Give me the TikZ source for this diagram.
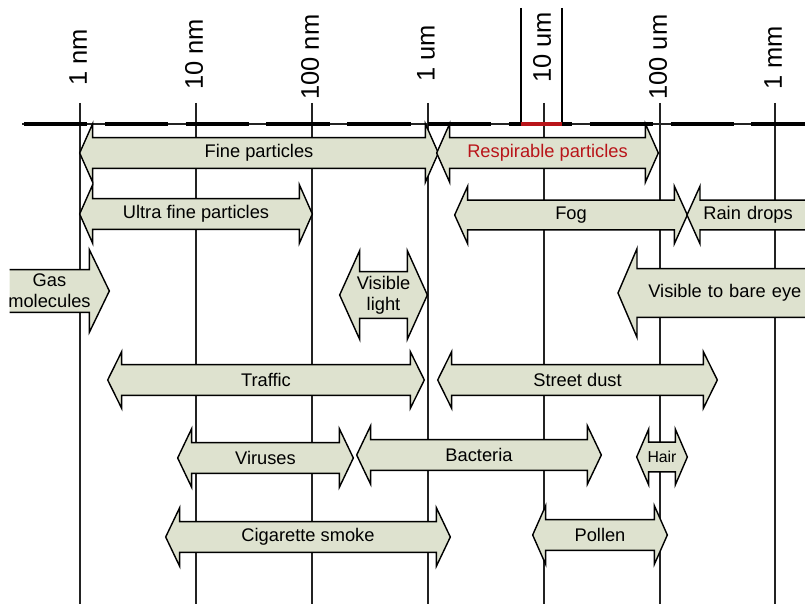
\documentclass[tikz,border=0pt]{standalone}
\usepackage{fontspec}
\setmainfont{Liberation Sans}
\usepackage{xcolor}
\usetikzlibrary{calc}
\pgfdeclarelayer{back}
\pgfdeclarelayer{shapes}
\pgfsetlayers{back,shapes,main}

% double arrow round a shaft node: node, head extend, head length
\newcommand{\dblhead}[3]{%
  \begin{pgfonlayer}{shapes}
    \filldraw[arrow_body] (#1.north west) -- (#1.north east) -- ++(0,-#2)
      -- ($(#1.east)+(#3,0)$) -- ($(#1.south east)+(0,#2)$) -- (#1.south east)
      -- (#1.south west) -- ++(0,#2) -- ($(#1.west)+(-#3,0)$)
      -- ($(#1.north west)+(0,-#2)$) -- cycle;
  \end{pgfonlayer}}
% head on the left only
\newcommand{\lefthead}[3]{%
  \begin{pgfonlayer}{shapes}
    \filldraw[arrow_body] (#1.north east) -- (#1.north west) -- ++(0,-#2)
      -- ($(#1.west)+(-#3,0)$) -- ($(#1.south west)+(0,#2)$) -- (#1.south west)
      -- (#1.south east);
  \end{pgfonlayer}}
% head on the right only
\newcommand{\righthead}[3]{%
  \begin{pgfonlayer}{shapes}
    \filldraw[arrow_body] (#1.north west) -- (#1.north east) -- ++(0,-#2)
      -- ($(#1.east)+(#3,0)$) -- ($(#1.south east)+(0,#2)$) -- (#1.south east)
      -- (#1.south west);
  \end{pgfonlayer}}

\begin{document}
\begin{tikzpicture}[x=0.02cm, y=-0.02cm]
			% Define colors
			\definecolor{shaftgreen}{RGB}{222, 226, 207}
			\definecolor{respred}{RGB}{185, 20, 25}
			\definecolor{gridgray}{RGB}{35, 35, 35}

			% Styles
			\tikzstyle{arrow_body} = [fill=shaftgreen, draw=black, line width=0.8pt, line join=miter]
			\tikzstyle{shaft} = [inner sep=0pt, minimum height=0.6cm, align=center, font=\fontsize{10.4}{12}\selectfont]
			\tikzstyle{cut_shaft} = [shaft, align=left, anchor=west]
			\tikzstyle{scale_label} = [rotate=90, anchor=west, inner sep=0pt, font=\fontsize{14.5}{16}\selectfont]
			\tikzstyle{grid_line} = [draw=gridgray, line width=0.75pt]

			\useasboundingbox (0,0) rectangle (805,604);
			\clip (0,0) rectangle (805,604);

			% Scale: grid lines and labels
			\begin{pgfonlayer}{back}
			\foreach \x/\lbl/\ly in {80/1 nm/86, 196/10 nm/90, 312/100 nm/100, 428/1 um/82, 544/10 um/83, 660/100 um/100, 775/1 mm/90}{
				\draw[grid_line] (\x,103) -- (\x,604);
				\node[scale_label] (lbl\x) at (\x-2,\ly) {\lbl};
			}
			\draw[draw=gridgray, line width=0.8pt] (22,124) -- (805,124);
			\draw[draw=black, line width=1.9pt, dash pattern=on 36pt off 10pt] (24,124) -- (805,124);
			% 10 um window
			\draw[draw=black, line width=0.6pt] (521,8) -- (521,124);
			\draw[draw=black, line width=0.6pt] (562,8) -- (562,124);
			\draw[draw=respred, line width=1.8pt] (521,124) -- (562,124);
			\end{pgfonlayer}

			% Row 1
			\node[shaft, minimum width=6.64cm] (fine) at (259,153) {Fine particles};
			\dblhead{fine}{14}{13}
			\node[shaft, minimum width=3.9cm, text=respred] (resp) at (547.5,153) {Respirable particles};
			\dblhead{resp}{14}{13}

			% Row 2
			\node[shaft, minimum width=4.12cm] (ultra) at (196,214) {Ultra fine particles};
			\dblhead{ultra}{14}{13}
			\node[shaft, minimum width=4.12cm, minimum height=0.58cm] (fog) at (571,215) {Fog};
			\dblhead{fog}{14}{13}
			\node[cut_shaft, minimum height=0.58cm, inner xsep=0.06cm, text width=2.68cm] (rain) at (700,215) {Rain drops};
			\lefthead{rain}{14}{13}

			% Row 3
			\node[shaft, minimum width=1.58cm, minimum height=0.84cm, inner xsep=-4pt] (gas) at (49.5,291) {Gas\\molecules};
			\righthead{gas}{20}{20}
			\node[shaft, minimum width=0.94cm, minimum height=0.92cm, inner xsep=-4pt] (light) at (383.5,295) {Visible\\light};
			\dblhead{light}{21}{20}
			\node[cut_shaft, minimum height=0.96cm, inner xsep=0.22cm, text width=3.6cm] (bare) at (637,293) {Visible to bare eye};
			\lefthead{bare}{20}{19}

			% Row 4
			\node[shaft, minimum width=5.76cm] (traffic) at (266,380) {Traffic};
			\dblhead{traffic}{13}{14}
			\node[shaft, minimum width=5.02cm] (dust) at (577.5,380) {Street dust};
			\dblhead{dust}{13}{14}

			% Row 5
			\node[shaft, minimum width=2.94cm] (viruses) at (265.5,458) {Viruses};
			\dblhead{viruses}{14}{14}
			\node[shaft, minimum width=4.32cm] (bacteria) at (479,455) {Bacteria};
			\dblhead{bacteria}{14}{14}
			\node[shaft, minimum width=0.52cm, minimum height=0.58cm, inner xsep=-4pt, font=\fontsize{9}{10}\selectfont] (hair) at (662,457) {Hair};
			\dblhead{hair}{13}{12}

			% Row 6
			\node[shaft, minimum width=5.12cm] (smoke) at (308,537) {Cigarette smoke};
			\dblhead{smoke}{14}{14}
			\node[shaft, minimum width=2.16cm] (pollen) at (600,535) {Pollen};
			\dblhead{pollen}{14}{13}

\end{tikzpicture}
\end{document}
